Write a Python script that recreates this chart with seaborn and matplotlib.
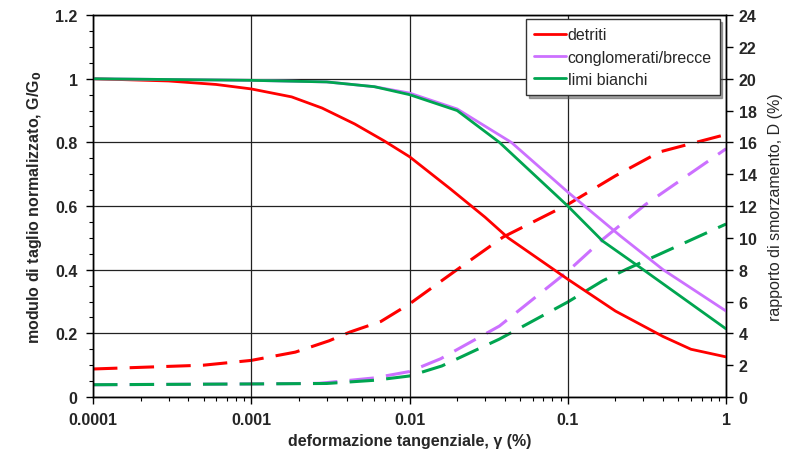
import matplotlib
matplotlib.use("Agg")
import matplotlib.pyplot as plt
import matplotlib.ticker as mticker
import seaborn as sns
import pandas as pd
import numpy as np

# ---- data ----
x_ticks = [0.0001, 0.001, 0.01, 0.1, 1]
x_tick_labels = ["0.0001", "0.001", "0.01", "0.1", "1"]

det_g_x = [0.0001, 0.0003, 0.0006, 0.001, 0.0018, 0.0028, 0.0045, 0.0069, 0.01, 0.018, 0.03, 0.042, 0.1, 0.2, 0.4, 0.6, 1]
det_g = [1.0, 0.993, 0.982, 0.968, 0.943, 0.908, 0.858, 0.805, 0.755, 0.655, 0.565, 0.50, 0.37, 0.27, 0.19, 0.15, 0.126]

con_g_x = [0.0001, 0.001, 0.003, 0.006, 0.01, 0.02, 0.044, 0.1, 0.215, 0.4, 1]
con_g = [1.0, 0.995, 0.99, 0.975, 0.955, 0.905, 0.80, 0.644, 0.506, 0.40, 0.27]

lim_g_x = [0.0001, 0.001, 0.003, 0.006, 0.01, 0.02, 0.037, 0.1, 0.166, 0.3, 1]
lim_g = [1.0, 0.995, 0.99, 0.975, 0.95, 0.90, 0.80, 0.60, 0.49, 0.40, 0.214]

det_d_x = [0.0001, 0.0005, 0.001, 0.0019, 0.0031, 0.0042, 0.0066, 0.01, 0.019, 0.039, 0.1, 0.2, 0.38, 1]
det_d = [1.76, 2.0, 2.3, 2.82, 3.53, 4.08, 4.75, 5.85, 7.85, 10.05, 12.1, 13.9, 15.4, 16.5]

con_d_x = [0.0001, 0.001, 0.0027, 0.006, 0.01, 0.0157, 0.037, 0.1, 0.166, 0.31, 1]
con_d = [0.77, 0.82, 0.86, 1.2, 1.6, 2.4, 4.46, 7.9, 9.9, 12.1, 15.6]

lim_d_x = [0.0001, 0.001, 0.003, 0.006, 0.01, 0.016, 0.037, 0.1, 0.166, 0.236, 1]
lim_d = [0.77, 0.82, 0.85, 1.05, 1.32, 1.95, 3.64, 5.97, 7.3, 8.04, 10.87]

names = ["detriti", "conglomerati/brecce", "limi bianchi"]
colors = {"detriti": "#FF0000", "conglomerati/brecce": "#CC70FF", "limi bianchi": "#00A550"}

g_df = pd.concat([
    pd.DataFrame({"x": det_g_x, "y": det_g, "s": names[0]}),
    pd.DataFrame({"x": con_g_x, "y": con_g, "s": names[1]}),
    pd.DataFrame({"x": lim_g_x, "y": lim_g, "s": names[2]}),
], ignore_index=True)
d_df = pd.concat([
    pd.DataFrame({"x": det_d_x, "y": det_d, "s": names[0]}),
    pd.DataFrame({"x": con_d_x, "y": con_d, "s": names[1]}),
    pd.DataFrame({"x": lim_d_x, "y": lim_d, "s": names[2]}),
], ignore_index=True)

sns.set_theme(style="white")
plt.rcParams["font.family"] = ["Liberation Sans", "DejaVu Sans"]

fig = plt.figure(figsize=(8.03, 4.6), dpi=100)
ax = fig.add_axes([0.1158, 0.1348, 0.7884, 0.8302])
ax2 = ax.twinx()

# damping (dashed) on secondary axis
for n in names:
    sub = d_df[d_df["s"] == n]
    sns.lineplot(data=sub, x="x", y="y", ax=ax2, color=colors[n], lw=2.2,
                 legend=False, sort=False)
for l in ax2.lines:
    l.set_dashes([8, 4])

for n in names:
    sub = g_df[g_df["s"] == n]
    sns.lineplot(data=sub, x="x", y="y", ax=ax, color=colors[n], lw=2.0,
                 label=n, sort=False)

ax.set_zorder(ax2.get_zorder() + 1)
ax.patch.set_visible(False)

for a in (ax, ax2):
    a.set_xscale("log")
    a.set_xlim(0.0001, 1)
ax.set_ylim(0, 1.2)
ax2.set_ylim(0, 24)

ax.xaxis.set_major_locator(mticker.FixedLocator(x_ticks))
ax.xaxis.set_major_formatter(mticker.FixedFormatter(x_tick_labels))
ax.xaxis.set_minor_locator(mticker.LogLocator(base=10, subs=np.arange(2, 10)))
ax.xaxis.set_minor_formatter(mticker.NullFormatter())
ax.yaxis.set_major_locator(mticker.MultipleLocator(0.2))
ax.yaxis.set_minor_locator(mticker.MultipleLocator(0.05))
ax.yaxis.set_major_formatter(mticker.FuncFormatter(lambda v, p: f"{v:g}"))
ax2.yaxis.set_major_locator(mticker.MultipleLocator(2))
ax2.yaxis.set_major_formatter(mticker.FuncFormatter(lambda v, p: f"{v:g}"))

ax.grid(True, which="major", color="#222222", lw=0.9)
ax2.grid(False)

ax.tick_params(axis="both", which="major", direction="out", length=5, width=1,
               color="black", labelsize=11.5, pad=6, left=True, bottom=True)
ax.tick_params(axis="both", which="minor", direction="out", length=3, width=0.8,
               color="black", left=True, bottom=True)
ax2.tick_params(axis="y", which="major", direction="out", length=5, width=1,
                color="black", labelsize=11.5, right=True, pad=4)
for lab in ax.get_xticklabels() + ax.get_yticklabels() + ax2.get_yticklabels():
    lab.set_fontweight("bold")

for a in (ax, ax2):
    for sp in a.spines.values():
        sp.set_color("black")
        sp.set_linewidth(1)

ax.set_xlabel("deformazione tangenziale, γ (%)", fontsize=11.5, fontweight="bold", labelpad=4)
ax.set_ylabel("modulo di taglio normalizzato, G/G$_\\mathbf{0}$", fontsize=11.5,
              fontweight="bold", labelpad=8)
ax2.set_ylabel("rapporto di smorzamento, D (%)", fontsize=11.5, labelpad=8)
ax2.set_xlabel("")

leg = ax.legend(loc="upper right", bbox_to_anchor=(0.995, 0.997), frameon=True,
                fancybox=False, shadow=True, fontsize=11.5, handlelength=2.0,
                handletextpad=0.1, borderpad=0.5, labelspacing=0.45, borderaxespad=0.2)
leg.get_frame().set_edgecolor("#333333")
leg.get_frame().set_linewidth(1)

fig.savefig("out.png", dpi=100)
